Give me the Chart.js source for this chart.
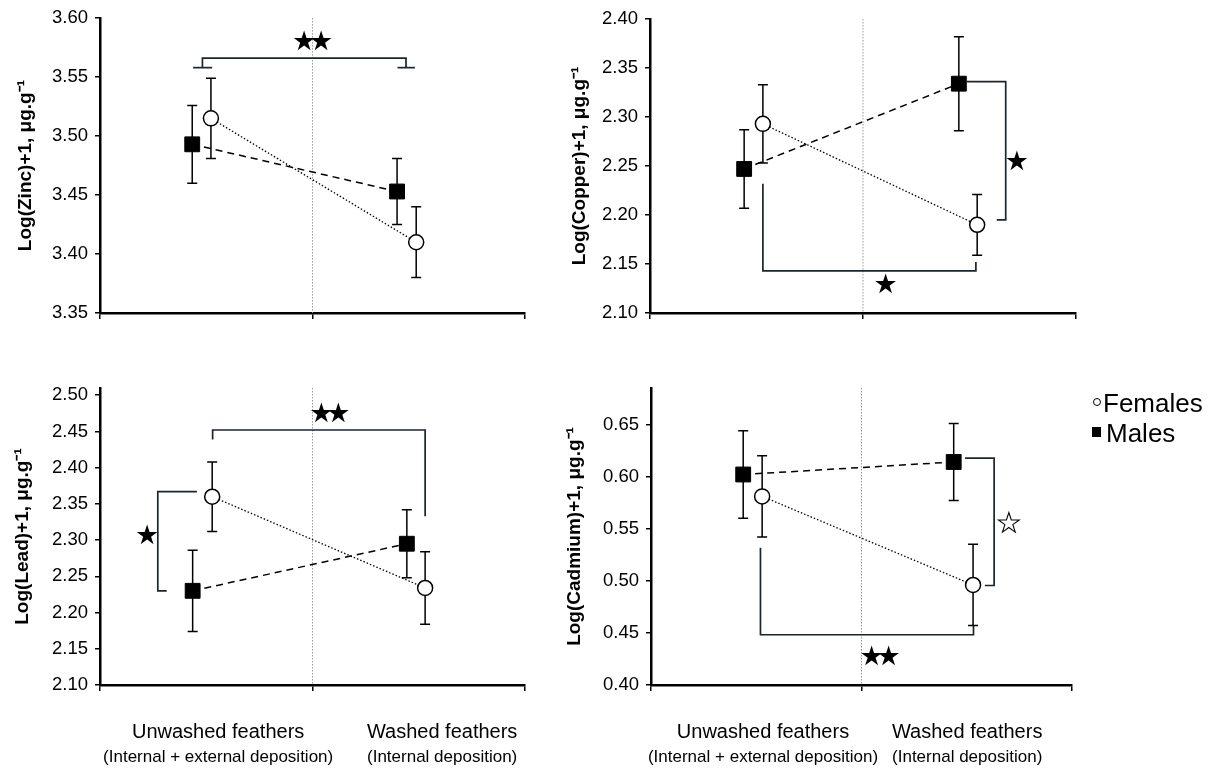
<!DOCTYPE html>
<html>
<head>
<meta charset="utf-8">
<script src="https://cdn.jsdelivr.net/npm/chart.js@4.4.1/dist/chart.umd.min.js"></script>
<style>
    body { margin: 0; background: #fff; width: 1210px; height: 769px; position: relative; overflow: hidden; font-family: "Liberation Sans", Arial, sans-serif; }
    .panel { position: absolute; }
    .legend-item { position: absolute; left: 1103px; font-size: 26px; line-height: 26px; color: #000; white-space: nowrap; }
    .sym { position: absolute; }
    .sym.circle { width: 6px; height: 6px; border: 1.5px solid #000; border-radius: 50%; background: #fff; }
    .sym.square { width: 9px; height: 10px; background: #000; }
</style>
</head>
<body>
    <div class="panel" style="left:0px;top:0px;width:545px;height:345px"><canvas id="zincChart"></canvas></div>
    <div class="panel" style="left:545px;top:0px;width:565px;height:345px"><canvas id="copperChart"></canvas></div>
    <div class="panel" style="left:0px;top:350px;width:545px;height:419px"><canvas id="leadChart"></canvas></div>
    <div class="panel" style="left:545px;top:350px;width:565px;height:419px"><canvas id="cadmiumChart"></canvas></div>

    <span class="sym circle" style="left:1093px;top:398px"></span>
    <div class="legend-item" style="top:390px">Females</div>
    <span class="sym square" style="left:1092px;top:427px"></span>
    <div class="legend-item" style="top:420px;left:1106px">Males</div>

<script>
// categories & series
const categories = ['Unwashed feathers', 'Washed feathers'];
const subCategories = ['(Internal + external deposition)', '(Internal deposition)'];
const seriesNames = ['Females', 'Males'];

// means and standard errors, log(x)+1
const zincFemales = [3.515, 3.410];
const zincFemalesSE = [0.034, 0.030];
const zincMales = [3.493, 3.453];
const zincMalesSE = [0.033, 0.028];
const zincTicks = [3.35, 3.40, 3.45, 3.50, 3.55, 3.60];

const copperFemales = [2.293, 2.190];
const copperFemalesSE = [0.040, 0.031];
const copperMales = [2.247, 2.334];
const copperMalesSE = [0.040, 0.048];
const copperTicks = [2.10, 2.15, 2.20, 2.25, 2.30, 2.35, 2.40];

const leadFemales = [2.360, 2.234];
const leadFemalesSE = [0.048, 0.050];
const leadMales = [2.230, 2.295];
const leadMalesSE = [0.056, 0.047];
const leadTicks = [2.10, 2.15, 2.20, 2.25, 2.30, 2.35, 2.40, 2.45, 2.50];

const cadmiumFemales = [0.581, 0.496];
const cadmiumFemalesSE = [0.039, 0.039];
const cadmiumMales = [0.602, 0.614];
const cadmiumMalesSE = [0.042, 0.037];
const cadmiumTicks = [0.40, 0.45, 0.50, 0.55, 0.60, 0.65];

const FONT = '"Liberation Sans", Arial, sans-serif';
const STAR_FONT = '27px "DejaVu Sans", sans-serif';

// dotted divider, error bars, significance brackets, stars, x labels
const decor = {
    id: 'decor',
    beforeDatasetsDraw(chart, args, opts) {
        const { ctx, chartArea: a, scales: { x, y } } = chart;
        ctx.save();
        ctx.strokeStyle = '#9a9a9a';
        ctx.lineWidth = 1;
        ctx.setLineDash([1.5, 1.5]);
        const mx = x.getPixelForValue(0.5);
        ctx.beginPath(); ctx.moveTo(mx, a.top); ctx.lineTo(mx, a.bottom); ctx.stroke();
        ctx.setLineDash([]);

        ctx.strokeStyle = '#000';
        ctx.lineWidth = 1.5;
        chart.data.datasets.forEach(ds => {
            ds.data.forEach((p, i) => {
                const px = x.getPixelForValue(p.x);
                const hi = y.getPixelForValue(p.y + ds.se[i]);
                const lo = y.getPixelForValue(p.y - ds.se[i]);
                ctx.beginPath();
                ctx.moveTo(px, hi); ctx.lineTo(px, lo);
                ctx.moveTo(px - 5, hi); ctx.lineTo(px + 5, hi);
                ctx.moveTo(px - 5, lo); ctx.lineTo(px + 5, lo);
                ctx.stroke();
            });
        });

        ctx.strokeStyle = '#1c252b';
        ctx.lineWidth = 1.7;
        (opts.brackets || []).forEach(path => {
            ctx.beginPath();
            path.forEach(([vx, vy], k) => {
                const px = x.getPixelForValue(vx), py = y.getPixelForValue(vy);
                k ? ctx.lineTo(px, py) : ctx.moveTo(px, py);
            });
            ctx.stroke();
        });

        // stars, drawn one by one so pairs sit close together
        ctx.font = STAR_FONT;
        ctx.textAlign = 'center';
        ctx.textBaseline = 'middle';
        (opts.stars || []).forEach(s => {
            const chars = [...s.text];
            const cx = x.getPixelForValue(s.x), cy = y.getPixelForValue(s.y);
            chars.forEach((c, k) => {
                const sx = cx + (k - (chars.length - 1) / 2) * 17;
                if (c === '☆') {
                    // open star: white fill with a black outline
                    ctx.fillStyle = '#fff';
                    ctx.fillText('★', sx, cy);
                    ctx.strokeStyle = '#000';
                    ctx.lineWidth = 1.1;
                    ctx.strokeText('★', sx, cy);
                } else {
                    ctx.fillStyle = '#000';
                    ctx.fillText(c, sx, cy);
                }
            });
        });
        ctx.restore();
    },
    afterDraw(chart, args, opts) {
        if (!opts.xLabelAt) return;
        const { ctx, chartArea: a, scales: { x } } = chart;
        ctx.save();
        ctx.fillStyle = '#000';
        ctx.textAlign = 'center';
        ctx.textBaseline = 'middle';
        opts.xLabelAt.forEach((v, i) => {
            const px = x.getPixelForValue(v);
            ctx.font = '20px "Liberation Sans", Arial, sans-serif';
            ctx.fillText(categories[i], px, a.bottom + 47);
            ctx.font = '17px "Liberation Sans", Arial, sans-serif';
            ctx.fillText(subCategories[i], px, a.bottom + 72);
        });
        ctx.restore();
    }
};

function makePanel(id, p) {
    const { box, area } = p;
    const ctx = document.getElementById(id).getContext('2d');
    return new Chart(ctx, {
        type: 'line',
        data: {
            datasets: [
                {
                    label: seriesNames[0],
                    data: p.slots.female.map((v, i) => ({ x: v, y: p.females[i] })),
                    se: p.femalesSE,
                    borderColor: '#000',
                    borderWidth: 1.3,
                    borderDash: [1.5, 2],
                    pointStyle: 'circle',
                    pointRadius: 7.5,
                    pointBackgroundColor: '#fff',
                    pointBorderColor: '#000',
                    pointBorderWidth: 1.5
                },
                {
                    label: seriesNames[1],
                    data: p.slots.male.map((v, i) => ({ x: v, y: p.males[i] })),
                    se: p.malesSE,
                    borderColor: '#000',
                    borderWidth: 1.5,
                    borderDash: [7, 5],
                    pointStyle: 'rect',
                    pointRadius: 10.5,
                    pointBackgroundColor: '#000',
                    pointBorderColor: '#000',
                    pointBorderWidth: 1
                }
            ]
        },
        options: {
            responsive: true,
            maintainAspectRatio: false,
            animation: false,
            layout: { padding: { top: area.top - box.top, right: box.left + box.width - area.right, left: 0, bottom: 0 } },
            scales: {
                x: {
                    type: 'linear', min: 0, max: 1,
                    afterBuildTicks: s => { s.ticks = [0, 0.5, 1].map(v => ({ value: v })); },
                    afterFit: s => { s.height = box.top + box.height - area.bottom; },
                    ticks: { display: false },
                    grid: { drawOnChartArea: false, drawTicks: true, tickLength: 6, color: '#000', lineWidth: 1.5 },
                    border: { color: '#000', width: 2.5 }
                },
                y: {
                    min: p.min, max: p.max,
                    afterBuildTicks: s => { s.ticks = p.ticks.map(v => ({ value: v })); },
                    afterFit: s => { s.width = area.left - box.left; },
                    ticks: { color: '#000', font: { family: FONT, size: 18.5 }, padding: 7, callback: v => v.toFixed(2) },
                    grid: { drawOnChartArea: false, drawTicks: true, tickLength: 5, color: '#000', lineWidth: 1.5 },
                    border: { color: '#000', width: 2.5 },
                    title: {
                        display: true, text: p.title, color: '#000',
                        font: { family: FONT, size: 19, weight: 'bold' },
                        padding: { top: p.titlePad, bottom: 0 }
                    }
                }
            },
            plugins: {
                legend: { display: false },
                tooltip: { enabled: false },
                decor: { brackets: p.brackets, stars: p.stars, xLabelAt: p.xLabelAt }
            }
        },
        plugins: [decor]
    });
}

makePanel('zincChart', {
    box: { left: 0, top: 0, width: 545, height: 345 },
    area: { left: 100, right: 525, top: 17, bottom: 313 },
    min: 3.35, max: 3.60, ticks: zincTicks, titlePad: 14,
    title: 'Log(Zinc)+1, μg.g⁻¹',
    females: zincFemales, femalesSE: zincFemalesSE, males: zincMales, malesSE: zincMalesSE,
    slots: { male: [0.217, 0.699], female: [0.261, 0.744] },
    brackets: [
        [[0.241, 3.558], [0.241, 3.566], [0.720, 3.566], [0.720, 3.558]],
        [[0.219, 3.558], [0.264, 3.558]],
        [[0.700, 3.558], [0.741, 3.558]]
    ],
    stars: [{ x: 0.5, y: 3.579, text: '★★' }]
});

makePanel('copperChart', {
    box: { left: 545, top: 0, width: 565, height: 345 },
    area: { left: 650, right: 1076, top: 19, bottom: 313 },
    min: 2.10, max: 2.40, ticks: copperTicks, titlePad: 23,
    title: 'Log(Copper)+1, μg.g⁻¹',
    females: copperFemales, femalesSE: copperFemalesSE, males: copperMales, malesSE: copperMalesSE,
    slots: { male: [0.221, 0.725], female: [0.265, 0.768] },
    brackets: [
        [[0.744, 2.336], [0.835, 2.336], [0.835, 2.195], [0.814, 2.195]],
        [[0.265, 2.232], [0.265, 2.143], [0.765, 2.143], [0.765, 2.152]]
    ],
    stars: [{ x: 0.861, y: 2.253, text: '★' }, { x: 0.553, y: 2.128, text: '★' }]
});

makePanel('leadChart', {
    box: { left: 0, top: 350, width: 545, height: 419 },
    area: { left: 100, right: 525, top: 388, bottom: 685 },
    min: 2.10, max: 2.51, ticks: leadTicks, titlePad: 11,
    title: 'Log(Lead)+1, μg.g⁻¹',
    females: leadFemales, femalesSE: leadFemalesSE, males: leadMales, malesSE: leadMalesSE,
    slots: { male: [0.218, 0.722], female: [0.264, 0.765] },
    brackets: [
        [[0.228, 2.367], [0.136, 2.367], [0.136, 2.230], [0.157, 2.230]],
        [[0.265, 2.439], [0.265, 2.452], [0.765, 2.452], [0.765, 2.333]]
    ],
    stars: [{ x: 0.111, y: 2.305, text: '★' }, { x: 0.541, y: 2.4725, text: '★★' }],
    xLabelAt: [0.278, 0.805]
});

makePanel('cadmiumChart', {
    box: { left: 545, top: 350, width: 565, height: 419 },
    area: { left: 651, right: 1072, top: 388, bottom: 685 },
    min: 0.40, max: 0.685, ticks: cadmiumTicks, titlePad: 18,
    title: 'Log(Cadmium)+1, μg.g⁻¹',
    females: cadmiumFemales, femalesSE: cadmiumFemalesSE, males: cadmiumMales, malesSE: cadmiumMalesSE,
    slots: { male: [0.219, 0.719], female: [0.264, 0.765] },
    brackets: [
        [[0.746, 0.6177], [0.815, 0.6177], [0.815, 0.4955], [0.793, 0.4955]],
        [[0.260, 0.5318], [0.260, 0.4482], [0.766, 0.4482], [0.766, 0.4569]]
    ],
    stars: [{ x: 0.850, y: 0.5536, text: '☆' }, { x: 0.544, y: 0.4264, text: '★★' }],
    xLabelAt: [0.266, 0.751]
});
</script>
</body>
</html>
